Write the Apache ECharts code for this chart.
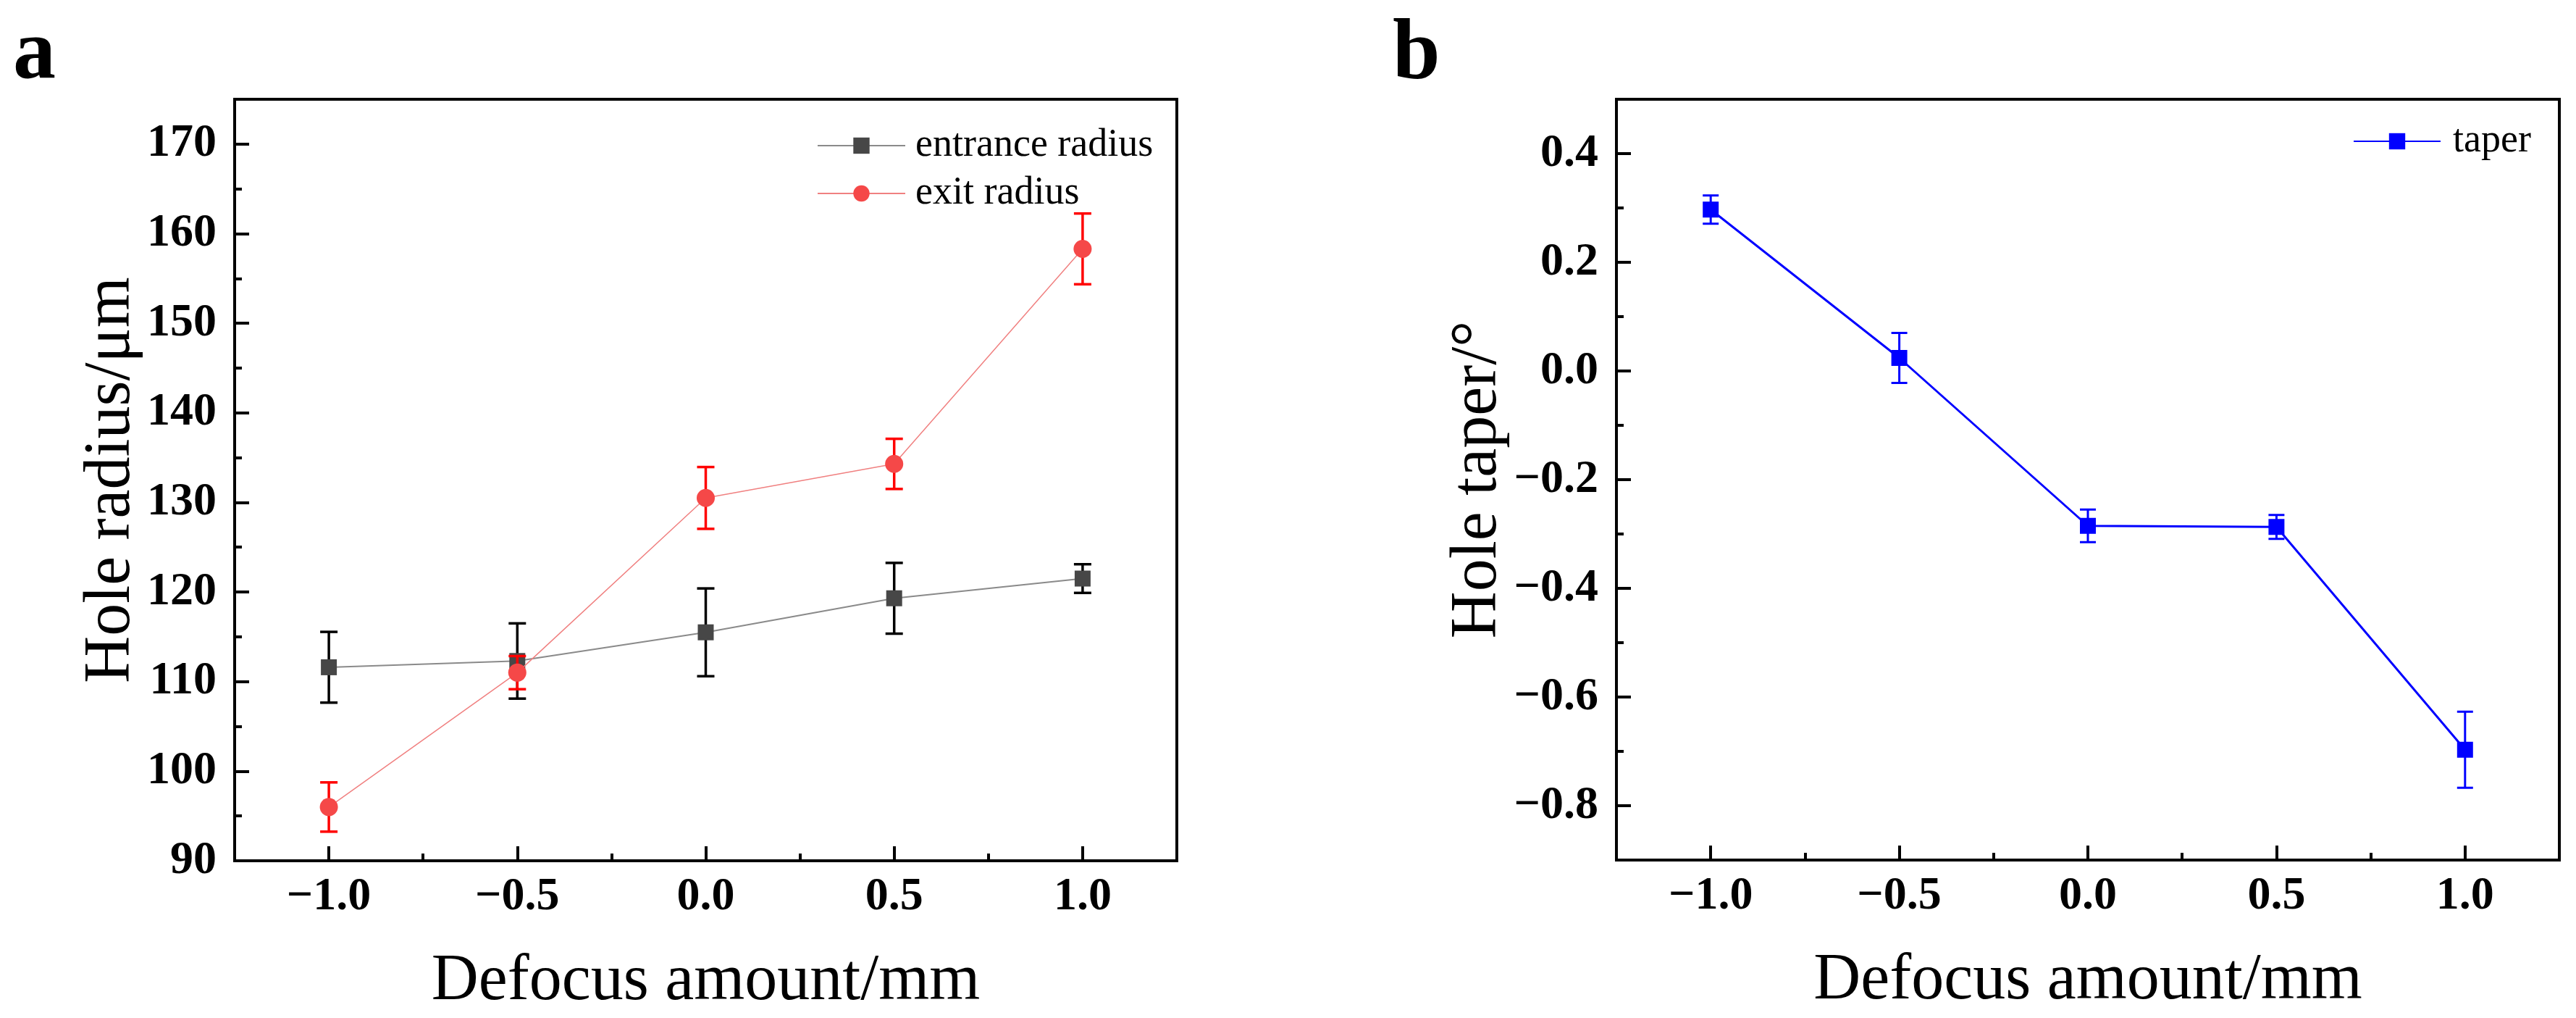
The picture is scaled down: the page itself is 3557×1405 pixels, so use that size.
<!DOCTYPE html>
<html><head><meta charset="utf-8">
<script src="https://cdn.jsdelivr.net/npm/echarts@6/dist/echarts.min.js"></script>
<style>html,body{margin:0;padding:0;background:#fff}#c{width:3557px;height:1405px}</style>
</head><body><div id="c"></div>
<script>
// ---------- data ----------
const defocus = [-1.0, -0.5, 0.0, 0.5, 1.0];
const entranceRadius = [111.6, 112.3, 115.5, 119.3, 121.5];
const entranceErr = [3.95, 4.2, 4.9, 3.95, 1.6];
const exitRadius = [96.0, 111.0, 130.5, 134.3, 158.3];
const exitErr = [2.75, 1.85, 3.45, 2.8, 3.95];
const taper = [0.297, 0.024, -0.285, -0.287, -0.697];
const taperErr = [0.026, 0.046, 0.030, 0.022, 0.070];

// ---------- tick labels ----------
const xMajorTicks = [-1.0, -0.5, 0.0, 0.5, 1.0];
const xMinorTicks = [-0.75, -0.25, 0.25, 0.75];
const radiusMajorTicks = [90, 100, 110, 120, 130, 140, 150, 160, 170];
const radiusMinorTicks = [95, 105, 115, 125, 135, 145, 155, 165];
const taperMajorTicks = [-0.8, -0.6, -0.4, -0.2, 0.0, 0.2, 0.4];
const taperMinorTicks = [-0.7, -0.5, -0.3, -0.1, 0.1, 0.3];

const FONT = 'Liberation Serif';
const minus = s => s.replace('-', '\u2212');

function mainX(gi, name) {
  return {
    type: 'value', gridIndex: gi, position: 'bottom', min: -1.25, max: 1.25,
    axisLine: { show: true, onZero: false, lineStyle: { color: '#000', width: 4 } },
    axisTick: { show: true, inside: true, length: 20, lineStyle: { color: '#000', width: 4 }, customValues: xMajorTicks },
    minorTick: { show: false },
    axisLabel: { show: true, customValues: xMajorTicks, margin: 18, color: '#000', fontFamily: FONT, fontWeight: 'bold', fontSize: 64,
      formatter: v => minus(Number(v).toFixed(1)) },
    splitLine: { show: false },
    name: name, nameLocation: 'middle', nameGap: 122,
    nameTextStyle: { fontFamily: FONT, fontSize: 90, color: '#000' }
  };
}
function minorX(gi) {
  return {
    type: 'value', gridIndex: gi, position: 'bottom', offset: 0, min: -1.25, max: 1.25,
    axisLine: { show: false, onZero: false },
    axisTick: { show: true, inside: true, length: 10, lineStyle: { color: '#000', width: 4 }, customValues: xMinorTicks },
    axisLabel: { show: false }, splitLine: { show: false }
  };
}
function mainY(gi, min, max, major, fmt, name, gap) {
  return {
    type: 'value', gridIndex: gi, position: 'left', min: min, max: max,
    axisLine: { show: true, onZero: false, lineStyle: { color: '#000', width: 4 } },
    axisTick: { show: true, inside: true, length: 20, lineStyle: { color: '#000', width: 4 }, customValues: major },
    axisLabel: { show: true, customValues: major, margin: 25, color: '#000', fontFamily: FONT, fontWeight: 'bold', fontSize: 64, formatter: fmt },
    splitLine: { show: false },
    name: name, nameLocation: 'middle', nameGap: gap,
    nameTextStyle: { fontFamily: FONT, fontSize: 90, color: '#000' }
  };
}
function minorY(gi, min, max, minor) {
  return {
    type: 'value', gridIndex: gi, position: 'left', offset: 0, min: min, max: max,
    axisLine: { show: false, onZero: false },
    axisTick: { show: true, inside: true, length: 10, lineStyle: { color: '#000', width: 4 }, customValues: minor },
    axisLabel: { show: false }, splitLine: { show: false }
  };
}

function errData(xs, ys, es) {
  return xs.map((x, i) => [x, ys[i] - es[i], ys[i] + es[i]]);
}
function errRender(color, lw, cap) {
  return function (params, api) {
    const x = api.value(0), lo = api.value(1), hi = api.value(2);
    const pt = api.coord([x, hi]), pb = api.coord([x, lo]);
    const st = { stroke: color, lineWidth: lw, fill: null };
    return { type: 'group', children: [
      { type: 'line', shape: { x1: pt[0], y1: pt[1], x2: pb[0], y2: pb[1] }, style: st },
      { type: 'line', shape: { x1: pt[0] - cap / 2, y1: pt[1], x2: pt[0] + cap / 2, y2: pt[1] }, style: st },
      { type: 'line', shape: { x1: pb[0] - cap / 2, y1: pb[1], x2: pb[0] + cap / 2, y2: pb[1] }, style: st }
    ]};
  };
}
const pairs = (xs, ys) => xs.map((x, i) => [x, ys[i]]);

const chart = echarts.init(document.getElementById('c'), null, { renderer: 'canvas', width: 3557, height: 1405 });
chart.setOption({
  animation: false,
  backgroundColor: '#fff',
  grid: [
    { left: 324, top: 137, width: 1301, height: 1051, show: true, borderColor: '#000', borderWidth: 4, backgroundColor: 'transparent' },
    { left: 2232, top: 137, width: 1302, height: 1050, show: true, borderColor: '#000', borderWidth: 4, backgroundColor: 'transparent' }
  ],
  xAxis: [ mainX(0, 'Defocus amount/mm'), minorX(0), mainX(1, 'Defocus amount/mm'), minorX(1) ],
  yAxis: [
    mainY(0, 90, 175, radiusMajorTicks, v => String(Math.round(v)), 'Hole radius/\u03bcm', 120),
    minorY(0, 90, 175, radiusMinorTicks),
    mainY(1, -0.9, 0.5, taperMajorTicks, v => minus(Number(v).toFixed(1)), 'Hole taper/\u00b0', 137),
    minorY(1, -0.9, 0.5, taperMinorTicks)
  ],
  legend: [
    { data: ['entrance radius', 'exit radius'], orient: 'vertical', left: 1128, top: 173, padding: 0,
      itemWidth: 121, itemHeight: 28, itemGap: 10, selectedMode: false,
      textStyle: { fontFamily: FONT, fontSize: 54, color: '#000', lineHeight: 56, padding: [0, 0, 0, 9] } },
    { data: ['taper'], orient: 'vertical', left: 3249, top: 167, padding: 0,
      itemWidth: 120, itemHeight: 28, selectedMode: false,
      textStyle: { fontFamily: FONT, fontSize: 54, color: '#000', lineHeight: 56, padding: [0, 0, 0, 12] } }
  ],
  graphic: [
    { type: 'text', left: 18, top: 18, style: { text: 'a', font: 'bold 118px "Liberation Serif"', fill: '#000' } },
    { type: 'text', left: 1923, top: 18, style: { text: 'b', font: 'bold 118px "Liberation Serif"', fill: '#000' } }
  ],
  series: [
    { name: 'entrance err', type: 'custom', xAxisIndex: 0, yAxisIndex: 0, z: 2,
      data: errData(defocus, entranceRadius, entranceErr), encode: { x: 0, y: [1, 2] },
      renderItem: errRender('#000000', 3.5, 24) },
    { name: 'entrance radius', type: 'line', xAxisIndex: 0, yAxisIndex: 0, z: 3,
      data: pairs(defocus, entranceRadius), symbol: 'rect', symbolSize: 22,
      itemStyle: { color: '#474747' }, lineStyle: { color: '#8a8a8a', width: 2 } },
    { name: 'exit err', type: 'custom', xAxisIndex: 0, yAxisIndex: 0, z: 4,
      data: errData(defocus, exitRadius, exitErr), encode: { x: 0, y: [1, 2] },
      renderItem: errRender('#ff0000', 3.5, 24) },
    { name: 'exit radius', type: 'line', xAxisIndex: 0, yAxisIndex: 0, z: 5,
      data: pairs(defocus, exitRadius), symbol: 'circle', symbolSize: 25,
      itemStyle: { color: '#f54848' }, lineStyle: { color: '#f08080', width: 1.5 } },
    { name: 'taper err', type: 'custom', xAxisIndex: 2, yAxisIndex: 2, z: 2,
      data: errData(defocus, taper, taperErr), encode: { x: 0, y: [1, 2] },
      renderItem: errRender('#0000ff', 3, 22) },
    { name: 'taper', type: 'line', xAxisIndex: 2, yAxisIndex: 2, z: 3,
      data: pairs(defocus, taper), symbol: 'rect', symbolSize: 22,
      itemStyle: { color: '#0000ff' }, lineStyle: { color: '#0000ff', width: 3 } }
  ]
});
</script></body></html>
